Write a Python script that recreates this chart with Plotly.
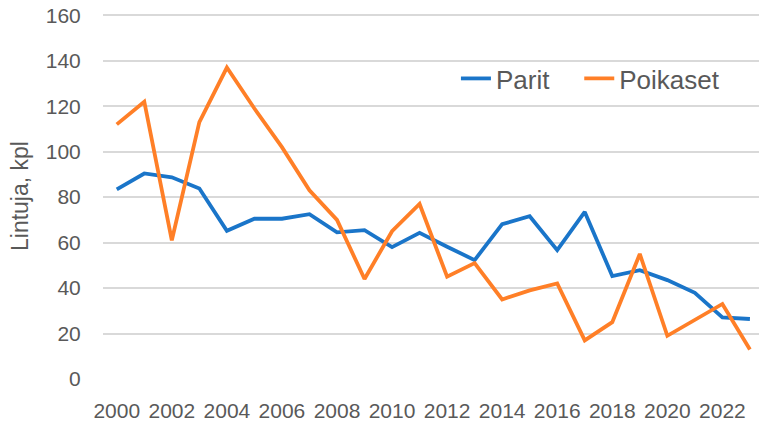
import plotly.graph_objects as go

# Pesimäkanta 2000-2023
years = list(range(2000, 2024))
parit = [83.4, 90.4, 88.7, 83.8, 65.2, 70.5, 70.5, 72.5, 64.5, 65.5, 58.0, 64.3,
         58.2, 52.3, 68.1, 71.6, 56.7, 73.5, 45.3, 47.9, 43.5, 37.9, 27.1, 26.4]
poikaset = [112, 122, 61, 113, 137, 119, 102, 83, 70, 44, 65, 77,
            45, 51, 35, 39, 42, 17, 25, 55, 19, 26, 33, 13]
tick_years = list(range(2000, 2023, 2))
y_ticks = list(range(0, 161, 20))

FONT = "Liberation Sans, Arial, sans-serif"
GREY = "#595959"

fig = go.Figure()
fig.add_trace(go.Scatter(x=years, y=parit, mode="lines", name="Parit", legend="legend",
                         line=dict(color="#1a75c9", width=3.8)))
fig.add_trace(go.Scatter(x=years, y=poikaset, mode="lines", name="Poikaset", legend="legend2",
                         line=dict(color="#ff7f27", width=3.8)))

fig.update_xaxes(
    range=[1999.5, 2023.33], tickvals=tick_years, ticktext=[str(y) for y in tick_years],
    showgrid=False, zeroline=False, showline=False, automargin=False,
    ticks="outside", ticklen=13, tickcolor="rgba(0,0,0,0)",
    tickfont=dict(family=FONT, size=21, color=GREY),
)
fig.update_yaxes(
    range=[0, 161], tickvals=y_ticks, showgrid=True, gridcolor="#d9d9d9", gridwidth=1.5,
    zeroline=False, showline=False, automargin=False,
    ticks="outside", ticklen=17, tickcolor="rgba(0,0,0,0)",
    tickfont=dict(family=FONT, size=21, color=GREY),
)

# y-axis title as a rotated annotation so it can sit right at the left edge
fig.add_annotation(text="Lintuja, kpl", textangle=-90, showarrow=False,
                   xref="paper", yref="paper", x=-0.1265, y=0.5,
                   xanchor="center", yanchor="middle",
                   font=dict(family=FONT, size=23, color=GREY))

legend_style = dict(orientation="h", y=0.821, xanchor="left", yanchor="middle",
                    font=dict(family=FONT, size=26, color=GREY), bgcolor="rgba(0,0,0,0)")

fig.update_layout(
    width=759, height=424,
    margin=dict(l=103, r=0, t=13, b=45),
    plot_bgcolor="white", paper_bgcolor="white",
    showlegend=True,
    legend=dict(x=0.538, **legend_style),
    legend2=dict(x=0.726, **legend_style),
)

fig.write_html("out.html", config={"displayModeBar": False},
               post_script="document.body.style.margin = '0';")
